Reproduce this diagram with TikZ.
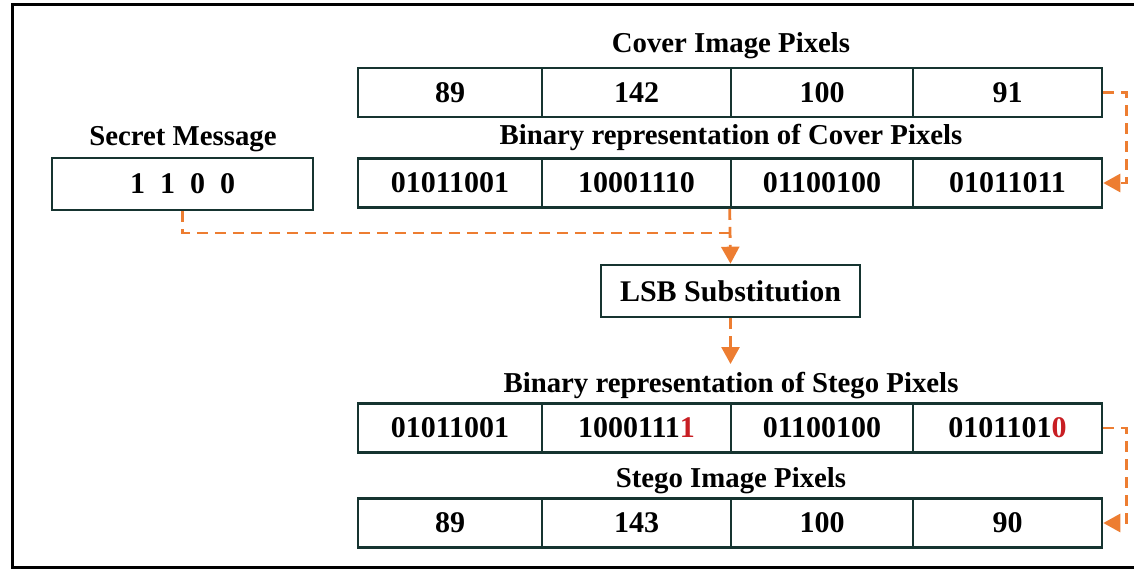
\documentclass[tikz,border=0pt]{standalone}
\usepackage{fontspec}
\setmainfont{Liberation Serif}
\usetikzlibrary{arrows.meta}
\definecolor{boxline}{RGB}{22,52,48}
\definecolor{arrorange}{RGB}{237,125,49}
\definecolor{bitred}{RGB}{200,30,35}
\begin{document}
\begin{tikzpicture}[x=1pt,y=-1pt,
  cell/.style={draw=boxline,line width=2.6pt,minimum height=49pt,inner sep=0pt,
    font=\fontsize{30}{34}\selectfont\bfseries},
  lbl/.style={inner sep=0pt,anchor=base,font=\fontsize{28.8}{32}\selectfont\bfseries},
  flow/.style={draw=arrorange,line width=2.8pt,dash pattern=on 11pt off 7pt},
  tip/.style={-{Triangle[length=17pt,width=18pt]}}
]
\useasboundingbox (0,0) rectangle (1134,569);
\draw[line width=3pt] (1140,5) -- (12,5) -- (12,567) -- (1140,567);
% cover pixels
\node[lbl] (lcov) at (731,53) {Cover Image Pixels};
\node[cell,minimum width=184pt] (c1) at (450,92.5) {89};
\node[cell,minimum width=189pt] (c2) at (636.5,92.5) {142};
\node[cell,minimum width=182pt] (c3) at (822,92.5) {100};
\node[cell,minimum width=189pt] (c4) at (1007.5,92.5) {91};
\node[lbl] (lbc) at (731,145) {Binary representation of Cover Pixels};
\node[cell,minimum width=184pt] (b1) at (450,183) {01011001};
\node[cell,minimum width=189pt] (b2) at (636.5,183) {10001110};
\node[cell,minimum width=182pt] (b3) at (822,183) {01100100};
\node[cell,minimum width=189pt] (b4) at (1007.5,183) {01011011};
% secret
\node[lbl] (lsec) at (183,146) {Secret Message};
\node[cell,minimum width=261pt,minimum height=52pt] (sec) at (182.5,184) {1\hspace{0.5em}1\hspace{0.5em}0\hspace{0.5em}0};
% LSB
\node[cell,minimum width=259pt,minimum height=52pt] (lsb) at (730.5,291) {LSB Substitution};
% stego
\node[lbl] (lbs) at (731,392) {Binary representation of Stego Pixels};
\node[cell,minimum width=184pt] (s1) at (450,428) {01011001};
\node[cell,minimum width=189pt] (s2) at (636.5,428) {1000111\textcolor{bitred}{1}};
\node[cell,minimum width=182pt] (s3) at (822,428) {01100100};
\node[cell,minimum width=189pt] (s4) at (1007.5,428) {0101101\textcolor{bitred}{0}};
\node[lbl] (lst) at (731,487) {Stego Image Pixels};
\node[cell,minimum width=184pt] (p1) at (450,523) {89};
\node[cell,minimum width=189pt] (p2) at (636.5,523) {143};
\node[cell,minimum width=182pt] (p3) at (822,523) {100};
\node[cell,minimum width=189pt] (p4) at (1007.5,523) {90};
% connectors
\coordinate (join) at (b3.south west |- 0,233);
\draw[flow] (sec.south) |- (join);
\draw[flow,tip] (b3.south west) -- (lsb.north);
\draw[flow,tip] (lsb.south) -- (lsb.south |- 0,364);
\draw[flow,tip] (c4.east) -- ++(23,0) |- (b4.east);
\draw[flow,tip] (s4.east) -- ++(23,0) |- (p4.east);
\end{tikzpicture}
\end{document}
